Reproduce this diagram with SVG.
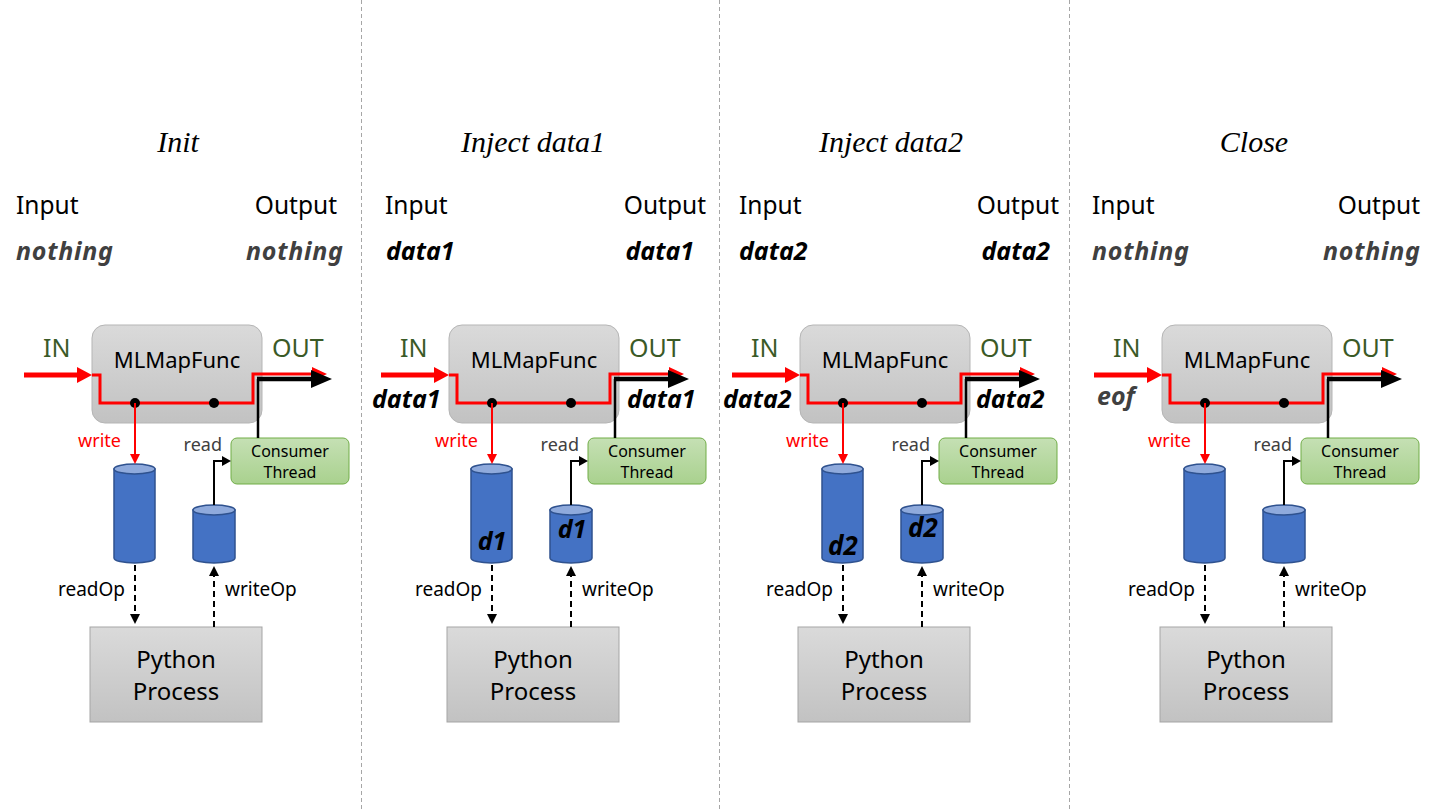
<svg xmlns="http://www.w3.org/2000/svg" width="1440" height="810" viewBox="0 0 1440 810">
<defs>
<linearGradient id="gGray" x1="0" y1="0" x2="0" y2="1"><stop offset="0" stop-color="#DADADA"/><stop offset="1" stop-color="#C2C2C2"/></linearGradient>
<linearGradient id="gGreen" x1="0" y1="0" x2="0" y2="1"><stop offset="0" stop-color="#C5E0B4"/><stop offset="1" stop-color="#A9D18E"/></linearGradient>
<style>
.sep{stroke:#A6A6A6;stroke-width:1;stroke-dasharray:4 3}
.title{font-family:"Liberation Serif",serif;font-style:italic;font-size:30px;fill:#000;text-anchor:middle}
.io{font-family:"Noto Sans",sans-serif;font-size:24.5px;fill:#000}
.val{font-family:"Noto Sans",sans-serif;font-style:italic;font-weight:bold;font-size:25px}
.nothing{fill:#404040}
.dark{fill:#000}
.inout{font-family:"Noto Sans",sans-serif;font-size:25px;fill:#3B5A27}
.fn{fill:url(#gGray);stroke:#B5B5B5;stroke-width:1}
.fnt{font-family:"Noto Sans",sans-serif;font-size:22px;fill:#000;text-anchor:middle}
.cons{fill:url(#gGreen);stroke:#70AD47;stroke-width:1}
.const{font-family:"Noto Sans",sans-serif;font-size:16px;fill:#000;text-anchor:middle}
.py{fill:url(#gGray);stroke:#A5A5A5;stroke-width:1}
.pyt{font-family:"Noto Sans",sans-serif;font-size:24px;fill:#000;text-anchor:middle}
.cyl{fill:#4472C4;stroke:#2F528F;stroke-width:1.5}
.cyltop{fill:#8FAADC;stroke:#2F528F;stroke-width:1.5}
.lbl{font-family:"Noto Sans",sans-serif;font-size:19px;fill:#000}
.wr{font-family:"Noto Sans",sans-serif;font-size:18px;fill:#FF0000;text-anchor:end}
.rd{font-family:"Noto Sans",sans-serif;font-size:18px;fill:#404040;text-anchor:end}
.cl{font-family:"Noto Sans",sans-serif;font-style:italic;font-weight:bold;font-size:25px;fill:#000;text-anchor:middle}
.redthick{stroke:#FF0000;stroke-width:5;fill:none}
.redline{stroke:#FF0000;stroke-width:3;fill:none}
.blkthick{stroke:#000;stroke-width:4.5;fill:none}
.thin{stroke:#000;stroke-width:2;fill:none}
.blkv{stroke:#000;stroke-width:2.5;fill:none}
.redthin{stroke:#FF0000;stroke-width:2;fill:none}
.dash{stroke:#000;stroke-width:2;fill:none;stroke-dasharray:6 4}
.rh{fill:#FF0000}
.bh{fill:#000}
</style>
<g id="panelBody">
  <g class="node mlmapfunc"><rect class="fn" x="92" y="325" width="170" height="98" rx="13"/><text class="fnt" x="177" y="368">MLMapFunc</text></g>
  <g class="node consumer"><rect class="cons" x="231" y="438" width="118" height="46" rx="6"/><text class="const" x="290" y="457">Consumer</text><text class="const" x="290" y="478">Thread</text></g>
  <g class="node cylLeft"><path class="cyl" d="M114,469 V558 A20.5,5 0 0 0 155,558 V469 Z"/><ellipse class="cyltop" cx="134.5" cy="469" rx="20.5" ry="5"/></g>
  <g class="node cylRight"><path class="cyl" d="M193,510 V558 A21,5 0 0 0 235,558 V510 Z"/><ellipse class="cyltop" cx="214" cy="510" rx="21" ry="5"/></g>
  <g class="node python"><rect class="py" x="90" y="627" width="172" height="95"/><text class="pyt" x="176" y="668">Python</text><text class="pyt" x="176" y="700">Process</text></g>
  <g class="connectors">
    <line class="redthick" x1="24" y1="375" x2="80" y2="375"/><polygon class="rh" points="77,367 92,375 77,383"/>
    <path class="redline" d="M92,375 H100 V403 H253 V374 H316"/><polygon class="rh" points="312,367 327,374 312,381"/>
    <path class="blkv" d="M258,438 V379"/>
    <path class="blkthick" d="M257,379 H314"/><polygon class="bh" points="311,370 332,379 311,388"/>
    <circle class="bh" cx="135" cy="403" r="5"/><circle class="bh" cx="214" cy="403" r="5"/>
    <line class="redthin" x1="135" y1="403" x2="135" y2="456"/><polygon class="rh" points="130,454 135,464 140,454"/>
    <path class="thin" d="M214,505 V461 H224"/><polygon class="bh" points="222,456 231,461 222,466"/>
    <line class="dash" x1="135" y1="565" x2="135" y2="615"/><polygon class="bh" points="130,614 135,624 140,614"/>
    <line class="dash" x1="214" y1="627" x2="214" y2="576"/><polygon class="bh" points="209,576 214,566 219,576"/>
    <text class="wr" x="121" y="447">write</text><text class="rd" x="222" y="451">read</text>
    <text class="lbl" x="58" y="596">readOp</text><text class="lbl" x="225" y="596">writeOp</text>
    <text class="inout" x="43" y="357">IN</text><text class="inout" x="272" y="357">OUT</text>
  </g>
</g>
</defs>

<g id="separators">
<line class="sep" x1="361.5" y1="0" x2="361.5" y2="810"/>
<line class="sep" x1="719.5" y1="0" x2="719.5" y2="810"/>
<line class="sep" x1="1069.5" y1="0" x2="1069.5" y2="810"/>
</g>

<g id="headers">
<text class="title" x="178" y="152">Init</text>
<text class="title" x="533" y="152">Inject data1</text>
<text class="title" x="891" y="152">Inject data2</text>
<text class="title" x="1254" y="152">Close</text>
<text class="io" x="16" y="214">Input</text><text class="io" x="337" y="214" text-anchor="end">Output</text>
<text class="io" x="385" y="214">Input</text><text class="io" x="706" y="214" text-anchor="end">Output</text>
<text class="io" x="739" y="214">Input</text><text class="io" x="1059" y="214" text-anchor="end">Output</text>
<text class="io" x="1092" y="214">Input</text><text class="io" x="1420" y="214" text-anchor="end">Output</text>
<text class="val nothing" x="16" y="260" textLength="97" lengthAdjust="spacing">nothing</text><text class="val nothing" x="246" y="260" textLength="97" lengthAdjust="spacing">nothing</text>
<text class="val dark" x="386" y="260">data1</text><text class="val dark" x="694" y="260" text-anchor="end">data1</text>
<text class="val dark" x="739" y="260">data2</text><text class="val dark" x="1050" y="260" text-anchor="end">data2</text>
<text class="val nothing" x="1092" y="260" textLength="97" lengthAdjust="spacing">nothing</text><text class="val nothing" x="1323" y="260" textLength="97" lengthAdjust="spacing">nothing</text>
</g>

<g id="panel-init"><use href="#panelBody"/></g>
<g id="panel-data1" transform="translate(357,0)"><use href="#panelBody"/>
  <text class="val dark" x="15" y="408">data1</text><text class="val dark" x="270" y="408">data1</text>
  <text class="cl" x="135" y="550">d1</text><text class="cl" x="215" y="538">d1</text>
</g>
<g id="panel-data2" transform="translate(708,0)"><use href="#panelBody"/>
  <text class="val dark" x="15" y="408">data2</text><text class="val dark" x="268" y="408">data2</text>
  <text class="cl" x="135" y="555" style="font-size:26px">d2</text><text class="cl" x="215" y="537" style="font-size:26px">d2</text>
</g>
<g id="panel-close" transform="translate(1070,0)"><use href="#panelBody"/>
  <text class="val nothing" x="27" y="405">eof</text>
</g>
</svg>
